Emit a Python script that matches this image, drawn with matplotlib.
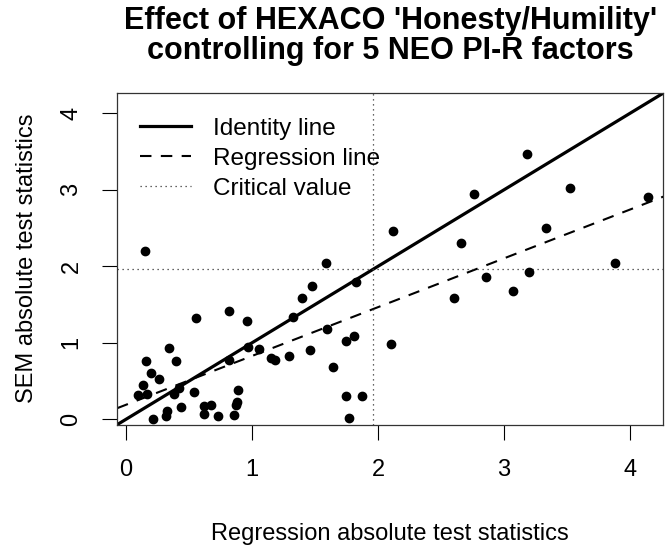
import numpy as np
import matplotlib
matplotlib.use("Agg")
import matplotlib.pyplot as plt

plt.rcParams['font.family'] = ['Liberation Sans', 'DejaVu Sans']

# regression (x) vs SEM (y) absolute test statistics
reg_stat = [0.148, 2.12, 1.587, 1.825, 1.479, 1.394, 1.325, 0.817, 0.558, 0.96,
            1.595, 1.743, 1.807, 2.10, 0.339, 0.968, 1.058, 1.458, 1.151, 1.18,
            1.294, 0.817, 0.159, 0.397, 1.643, 0.20, 0.259, 0.136, 0.092, 0.167,
            0.382, 0.423, 0.54, 0.891, 0.882, 0.876, 0.438, 0.328, 0.32, 0.62,
            0.677, 0.618, 0.727, 0.857, 0.213, 1.745, 1.875, 1.772,
            3.18, 2.76, 3.52, 4.14, 3.33, 2.657, 3.88, 2.86, 3.20, 2.60, 3.075]
sem_stat = [2.20, 2.46, 2.04, 1.80, 1.74, 1.585, 1.333, 1.42, 1.33, 1.28,
            1.18, 1.03, 1.09, 0.99, 0.93, 0.95, 0.915, 0.906, 0.805, 0.775,
            0.83, 0.777, 0.76, 0.76, 0.69, 0.60, 0.525, 0.445, 0.315, 0.33,
            0.325, 0.405, 0.352, 0.39, 0.233, 0.183, 0.16, 0.108, 0.05, 0.168,
            0.193, 0.07, 0.05, 0.054, 0.0, 0.307, 0.307, 0.023,
            3.47, 2.95, 3.02, 2.91, 2.50, 2.31, 2.04, 1.86, 1.92, 1.585, 1.68]

crit_value = 1.96
reg_intercept = 0.19
reg_slope = 0.638

fig = plt.figure(figsize=(6.66, 5.48), dpi=100)
ax = fig.add_axes([0.176, 0.225, 0.82, 0.606])

ax.axline((0, 0), slope=1, color='black', lw=2.3, label='Identity line')
ax.axline((0, reg_intercept), slope=reg_slope, color='black', lw=1.5,
          dashes=(5.5, 4.5), label='Regression line')
ax.axhline(crit_value, color='#333333', lw=0.9, dashes=(1, 3),
           label='Critical value')
ax.axvline(crit_value, color='#333333', lw=0.9, dashes=(1, 3))
ax.plot(reg_stat, sem_stat, 'o', color='black', markersize=6, zorder=3)

ax.set_xlim(-0.069, 4.264)
ax.set_ylim(-0.07, 4.27)
ax.set_xticks([0, 1, 2, 3, 4])
ax.set_yticks([0, 1, 2, 3, 4])
ax.tick_params(axis='both', length=11, width=0.8, labelsize=17, pad=14)
for lab in ax.get_yticklabels():
    lab.set_rotation(90)
    lab.set_va('center')
for s in ax.spines.values():
    s.set_linewidth(0.9)
    s.set_color('#333333')

ax.set_xlabel('Regression absolute test statistics', fontsize=17, labelpad=30)
ax.set_ylabel('SEM absolute test statistics', fontsize=17, labelpad=16)
ax.set_title("Effect of HEXACO 'Honesty/Humility'\ncontrolling for 5 NEO PI-R factors",
             fontsize=22, fontweight='bold', pad=24, linespacing=1.0)

ax.legend(loc='upper left', bbox_to_anchor=(0.01, 0.975), frameon=False,
          fontsize=17.5, handlelength=2.1, handletextpad=0.9,
          labelspacing=0.32, borderpad=0.2)

fig.savefig('out.png', dpi=100)
